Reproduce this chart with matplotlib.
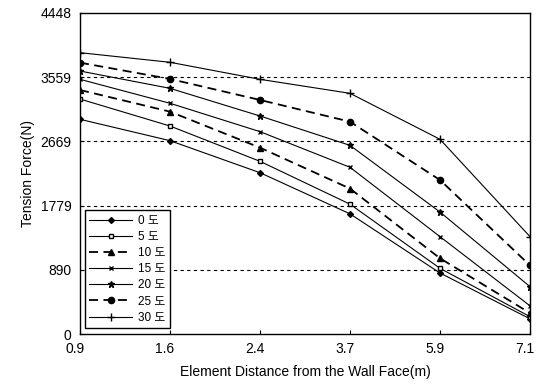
import matplotlib
matplotlib.use("Agg")
import matplotlib.pyplot as plt
import matplotlib.transforms as mtrans

plt.rcParams['font.family'] = ['Liberation Sans', 'Noto Sans CJK KR', 'DejaVu Sans']

categories = ["0.9", "1.6", "2.4", "3.7", "5.9", "7.1"]
labels = ["0 도", "5 도", "10 도", "15 도", "20 도", "25 도", "30 도"]
s0 = [2975, 2679, 2235, 1665, 845, 210]
s5 = [3256, 2882, 2393, 1799, 910, 240]
s10 = [3381, 3081, 2582, 2015, 1049, 290]
s15 = [3529, 3197, 2804, 2310, 1349, 390]
s20 = [3644, 3404, 3021, 2614, 1690, 656]
s25 = [3760, 3534, 3243, 2942, 2134, 950]
s30 = [3898, 3765, 3529, 3335, 2698, 1349]
yticks = [0, 890, 1779, 2669, 3559, 4448]

series = [s0, s5, s10, s15, s20, s25, s30]
styles = [
    dict(ls='-', marker='D', ms=3, mfc='black', lw=0.8),
    dict(ls='-', marker='s', ms=3.5, mfc='white', mew=1.0, lw=0.8),
    dict(ls=(0, (5, 3)), marker='^', ms=4.5, mfc='black', lw=1.3),
    dict(ls='-', marker='x', ms=3.5, lw=0.8),
    dict(ls='-', marker='*', ms=4.5, mfc='black', lw=0.8),
    dict(ls=(0, (5, 3)), marker='o', ms=4.5, mfc='black', lw=1.3),
    dict(ls='-', marker='+', ms=6, lw=0.8),
]

fig = plt.figure(figsize=(5.38, 3.88), dpi=100)
ax = fig.add_axes([80/538, 1 - 334/388, 450/538, 321/388])

x = list(range(len(categories)))
for ys, lab, st in zip(series, labels, styles):
    ax.plot(x, ys, color='black', label=lab, **st)

ax.set_xlim(0, len(categories) - 1)
ax.set_ylim(0, 4448)
ax.set_xticks(x)
ax.set_xticklabels(categories, fontsize=10)
ax.set_yticks(yticks)
ax.set_yticklabels([str(t) for t in yticks], fontsize=10)
for t in yticks[1:-1]:
    ax.axhline(t, color='black', lw=0.8, ls=(0, (3, 3)), zorder=0)
ax.tick_params(axis='both', length=3, direction='in', pad=6)
off = mtrans.ScaledTranslation(-5/100, 0, fig.dpi_scale_trans)
for lbl in ax.get_xticklabels():
    lbl.set_transform(lbl.get_transform() + off)
for sp in ax.spines.values():
    sp.set_linewidth(1.0)

ax.set_xlabel("Element Distance from the Wall Face(m)", fontsize=10, labelpad=6)
ax.set_ylabel("Tension Force(N)", fontsize=10, labelpad=4)

leg = ax.legend(loc='lower left', bbox_to_anchor=(0.005, 0.01), fontsize=8.5,
                frameon=True, fancybox=False, edgecolor='black', framealpha=1,
                handlelength=3.6, labelspacing=0.35, borderpad=0.4,
                handletextpad=0.5, borderaxespad=0.2)
leg.get_frame().set_linewidth(1.0)

fig.savefig("out.png", dpi=100)
